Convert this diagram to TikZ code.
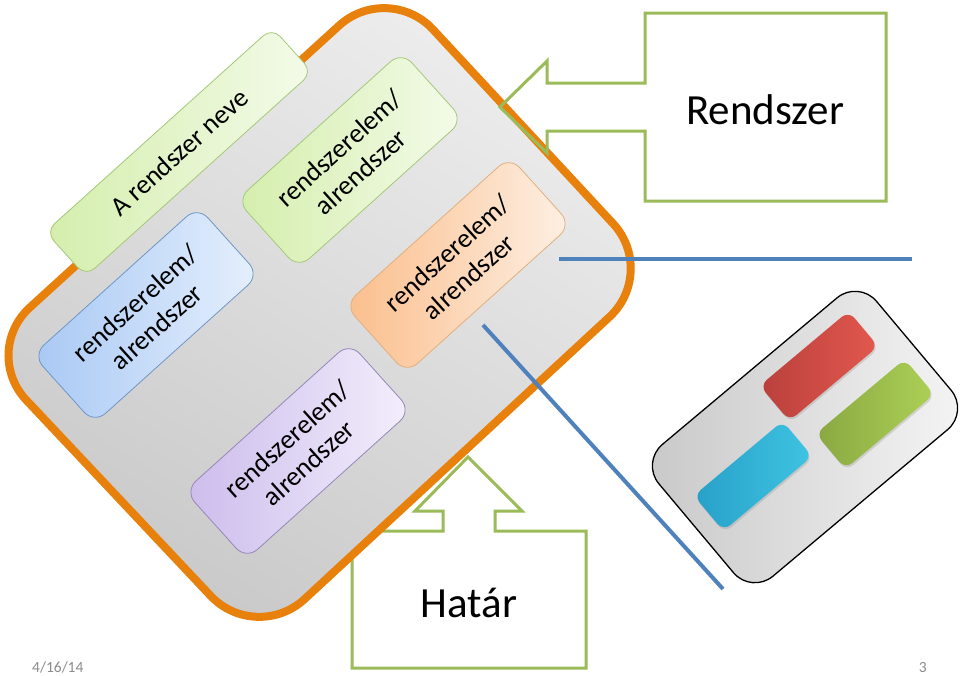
\documentclass[tikz,border=0pt]{standalone}
\usepackage{fontspec}
\setmainfont{Carlito}
\usetikzlibrary{shadows}
\definecolor{orangeB}{RGB}{232,128,12}
\definecolor{grayL}{RGB}{238,238,238}
\definecolor{grayD}{RGB}{200,200,200}
\definecolor{calloutG}{RGB}{155,187,89}
\definecolor{lineB}{RGB}{79,129,189}
\definecolor{greenL}{RGB}{244,251,234}
\definecolor{greenD}{RGB}{212,238,172}
\definecolor{greenE}{RGB}{165,200,120}
\definecolor{blueL}{RGB}{230,240,253}
\definecolor{blueD}{RGB}{168,200,244}
\definecolor{blueE}{RGB}{110,150,200}
\definecolor{orL}{RGB}{253,240,228}
\definecolor{orD}{RGB}{251,190,140}
\definecolor{orE}{RGB}{225,175,125}
\definecolor{puL}{RGB}{243,239,252}
\definecolor{puD}{RGB}{204,188,236}
\definecolor{puE}{RGB}{150,135,185}
\definecolor{redL}{RGB}{226,88,78}
\definecolor{redD}{RGB}{186,64,60}
\definecolor{grnL}{RGB}{172,208,86}
\definecolor{grnD}{RGB}{138,168,66}
\definecolor{cyL}{RGB}{62,196,226}
\definecolor{cyD}{RGB}{40,160,200}
\definecolor{footG}{RGB}{140,140,140}
\begin{document}
\begin{tikzpicture}[x=1pt,y=-1pt,
  callout/.style={draw=calloutG, line width=3pt, line join=miter},
  elem/.style={rounded corners=15pt, rotate=42, minimum width=222pt, minimum height=92pt,
     align=center, font=\fontsize{27}{32}\selectfont, line width=0.8pt, inner sep=2pt},
  minibox/.style={rounded corners=9pt, rotate=40, minimum width=116pt, minimum height=46pt,
     drop shadow={opacity=0.25, shadow xshift=1pt, shadow yshift=-2pt}},
  bline/.style={draw=lineB, line width=4pt},
  bigtext/.style={font=\fontsize{43}{50}\selectfont},
  footer/.style={font=\fontsize{15.5}{18}\selectfont, text=footG, inner sep=0pt}]
\useasboundingbox (0,0) rectangle (960,675);
\fill[white] (0,0) rectangle (960,675);

% Hatar callout (below the system shape)
\draw[callout] (352,531) -- (443,531) -- (443,511) -- (415,511) -- (468,457) -- (522,511)
  -- (495,511) -- (495,531) -- (586,531) -- (586,668) -- (352,668) -- cycle;
\node[bigtext] (hatar) at (469,603) {Határ};

% main system shape
\coordinate (mT) at (388,-19);
\coordinate (mR) at (658,272);
\coordinate (mB) at (256,644);
\coordinate (mL) at (-19,352);
\shadedraw[draw=orangeB, line width=8pt, rounded corners=66pt,
  top color=grayL, bottom color=grayD, shading angle=-30]
  (mL) -- (mT) -- (mR) -- (mB) -- cycle;

% elements
\node[elem, draw=greenE, left color=greenD, right color=greenL,
  minimum width=305pt, minimum height=60pt, rounded corners=12pt] (name) at (179,152) {A rendszer neve};
\node[elem, draw=greenE, left color=greenD, right color=greenL] (e1) at (350,160) {rendszerelem/\\alrendszer};
\node[elem, draw=blueE, left color=blueD, right color=blueL] (e2) at (146,315) {rendszerelem/\\alrendszer};
\node[elem, draw=orE, left color=orD, right color=orL] (e3) at (458,265) {rendszerelem/\\alrendszer};
\node[elem, draw=puE, left color=puD, right color=puL] (e4) at (298,451) {rendszerelem/\\alrendszer};

% Rendszer callout (on top)
\draw[callout] (645,13) -- (886,13) -- (886,201) -- (645,201) -- (645,131) -- (547,131)
  -- (547,153) -- (500,107) -- (547,61) -- (547,83) -- (645,83) -- cycle;
\node[bigtext] (rendszer) at (765,110) {Rendszer};

% blue lines
\coordinate (h1) at (559,259);
\coordinate (h2) at (912,259);
\coordinate (d1) at (483,325);
\coordinate (d2) at (723,589);
\draw[bline] (h1) -- (h2);
\draw[bline] (d1) -- (d2);

% small system
\node[draw=black, line width=1.3pt, rounded corners=28pt, rotate=40,
  minimum width=284pt, minimum height=172pt, left color=grayD, right color=grayL!60!white] (sys2) at (805,437) {};
\node[minibox, left color=redD, right color=redL] (red) at (819,366) {};
\node[minibox, left color=grnD, right color=grnL] (grn) at (875,414) {};
\node[minibox, left color=cyD, right color=cyL] (cyan) at (753,476) {};

% footer
\node[footer, anchor=base west] (date) at (32,672) {4/16/14};
\node[footer, anchor=base east] (page) at (927,672) {3};
\end{tikzpicture}
\end{document}
